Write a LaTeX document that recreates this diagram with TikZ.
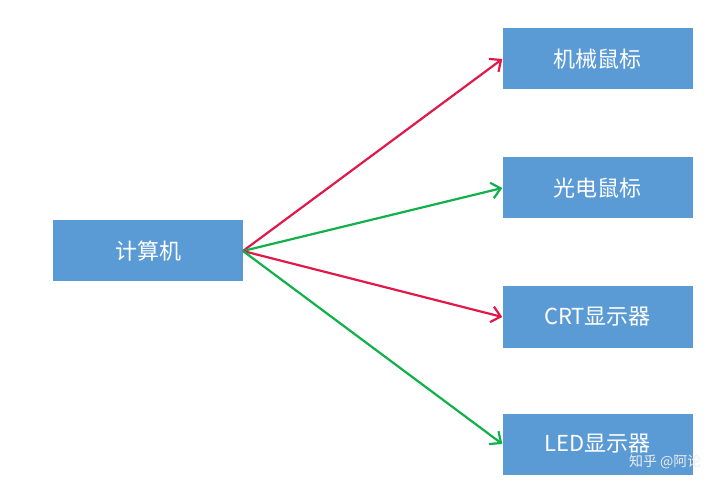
\documentclass[tikz,border=0pt]{standalone}
\usepackage{fontspec}
\setmainfont{Noto Sans CJK SC}
\usetikzlibrary{arrows.meta}
\definecolor{boxc}{HTML}{5B9BD5}
\definecolor{redc}{HTML}{E0194A}
\definecolor{greenc}{HTML}{10B04A}
\begin{document}
\begin{tikzpicture}[x=1pt,y=-1pt,
  box/.style={fill=boxc,draw=none,minimum width=190pt,minimum height=61pt,text=white,font=\fontsize{22}{24}\selectfont,inner sep=0pt},
  arr/.style={line width=2.2pt,-{Straight Barb[length=9pt,width=16pt,line width=2.2pt]}}]
\useasboundingbox (0,0) rectangle (720,494);
\node[box] (pc) at (148,251) {计算机};
\node[box] (a) at (597.5,59) {机械鼠标};
\node[box] (b) at (597.5,188) {光电鼠标};
\node[box] (c) at (597.5,317) {CRT显示器};
\node[box] (d) at (597.5,444) {LED显示器};
\coordinate (o) at (243,251);
\draw[arr,redc] (o) -- (a.west);
\draw[arr,greenc] (o) -- (b.west);
\draw[arr,redc] (o) -- (c.west);
\draw[arr,greenc] (o) -- (d.west);
\node[text=white!85!gray,font=\fontsize{14}{16}\selectfont,anchor=east] (wm) at (705,462) {知乎 @阿论};
\end{tikzpicture}
\end{document}
